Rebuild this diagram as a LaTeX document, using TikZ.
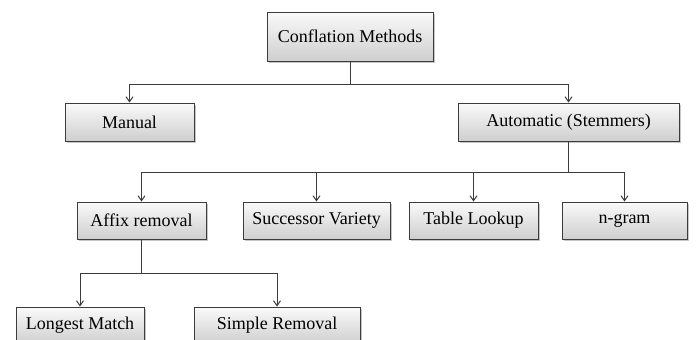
\documentclass[tikz,border=0pt]{standalone}
\usepackage{fontspec}
\setmainfont{Liberation Serif}
\usetikzlibrary{shadows,arrows.meta}
\definecolor{edgegray}{HTML}{3C3C3C}
\begin{document}
\begin{tikzpicture}[x=1pt,y=-1pt,
  box/.style={draw=edgegray, line width=0.9pt, top color=gray!4, bottom color=gray!38,
    minimum height=38pt, inner sep=0pt, font=\fontsize{18}{21}\selectfont,
    drop shadow={shadow xshift=2pt, shadow yshift=-2pt, fill=gray!55, opacity=0.8}},
  conn/.style={draw=edgegray, line width=1pt},
  arr/.style={conn, -{Straight Barb[length=5pt,width=7pt]}}]
\useasboundingbox (0,0) rectangle (697,340);
\clip (0,0) rectangle (697,340);
\node[box, minimum width=166pt, minimum height=49pt] (cm) at (350,36.5) {Conflation Methods};
\node[box, minimum width=129pt] (manual) at (129.5,122) {Manual};
\node[box, minimum width=221pt] (auto) at (568.5,122) {Automatic (Stemmers)};
\node[box, minimum width=129pt, minimum height=37pt] (affix) at (141.5,220.5) {Affix removal};
\node[box, minimum width=147pt, minimum height=37pt] (succ) at (316.5,220.5) {Successor Variety};
\node[box, minimum width=129pt, minimum height=37pt] (table) at (473.5,220.5) {Table Lookup};
\node[box, minimum width=125pt, minimum height=37pt] (ngram) at (624.5,220.5) {n-gram};
\node[box, minimum width=128pt, minimum height=37pt] (longest) at (80,325.5) {Longest Match};
\node[box, minimum width=166pt, minimum height=37pt] (simple) at (277,325.5) {Simple Removal};
\coordinate (bus1) at (350,84);
\coordinate (bus2) at (568.5,172);
\coordinate (bus3) at (141.5,273);
\draw[conn] (cm.south) -- (bus1);
\draw[arr] (bus1) -| (manual.north);
\draw[arr] (bus1) -| (auto.north);
\draw[conn] (auto.south) -- (bus2);
\draw[arr] (bus2) -| (affix.north);
\draw[arr] (bus2) -| (succ.north);
\draw[arr] (bus2) -| (table.north);
\draw[arr] (bus2) -| (ngram.north);
\draw[conn] (affix.south) -- (bus3);
\draw[arr] (bus3) -| (longest.north);
\draw[arr] (bus3) -| (simple.north);
\end{tikzpicture}
\end{document}
